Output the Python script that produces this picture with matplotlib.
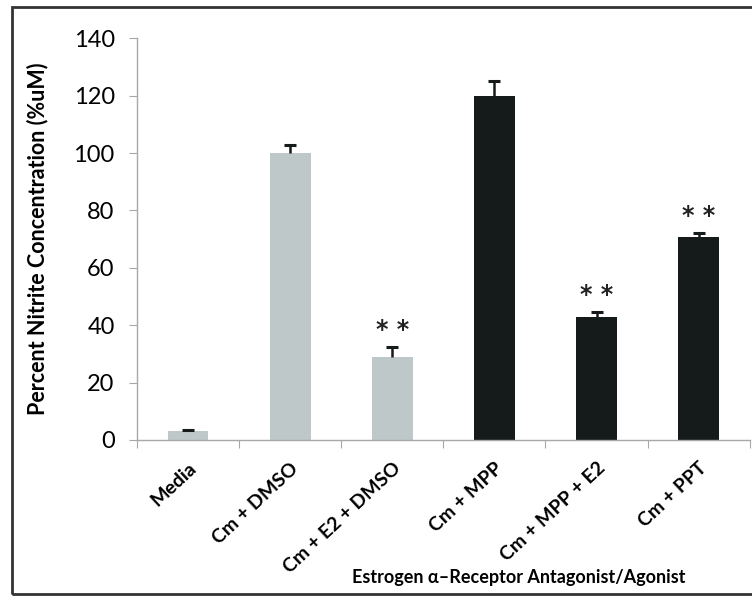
import matplotlib.pyplot as plt
from matplotlib.patches import Rectangle

categories = ["Media", "Cm + DMSO", "Cm + E2 + DMSO", "Cm + MPP", "Cm + MPP + E2", "Cm + PPT"]
values = [3.0, 100.0, 29.0, 120.0, 43.0, 70.6]
errors = [0.6, 2.7, 3.3, 5.2, 1.5, 1.6]
stars = ["", "", "* *", "", "* *", "* *"]
y_ticks = [0, 20, 40, 60, 80, 100, 120, 140]

GRAY = "#bfc8c8"
BLACK = "#151a1a"
bar_colors = [GRAY, GRAY, GRAY, BLACK, BLACK, BLACK]


def main():
    plt.rcParams["font.family"] = ["Lato", "DejaVu Sans"]
    fig = plt.figure(figsize=(7.52, 5.97), dpi=100)
    ax = fig.add_axes([0.182, 0.263, 0.815, 0.673])

    x = list(range(len(categories)))
    tops = [v + e for v, e in zip(values, errors)]
    ax.bar(x, values, width=0.4, color=bar_colors, zorder=2)
    # upper-only error bars with a small cap
    ax.vlines(x, values, tops, color=BLACK, linewidth=1.8, zorder=3)
    ax.plot(x, tops, linestyle="none", marker="_", markersize=8,
            markeredgewidth=2.2, color=BLACK, zorder=3)

    for xi, t, s in zip(x, tops, stars):
        if s:
            ax.text(xi, t + 6, s, ha="center", va="center",
                    fontsize=17, fontweight="bold", color="#222222",
                    family="DejaVu Sans")

    ax.set_xlim(-0.5, len(categories) - 0.5)
    ax.set_ylim(0, 140)
    ax.set_yticks(y_ticks)
    ax.set_yticklabels([str(t) for t in y_ticks], fontsize=17)
    ax.set_xticks([i - 0.5 for i in range(len(categories) + 1)], minor=False)
    ax.set_xticklabels([])
    ax.set_xticks(x, minor=True)
    ax.set_xticklabels(categories, minor=True, rotation=43, ha="right",
                       va="top", rotation_mode="anchor", fontsize=14,
                       fontweight="bold")
    ax.tick_params(axis="x", which="minor", length=0, pad=14)
    ax.tick_params(axis="x", which="major", length=6, color="#a8a8a8")
    ax.tick_params(axis="y", length=6, color="#a8a8a8", pad=10)

    for side in ["top", "right"]:
        ax.spines[side].set_visible(False)
    for side in ["left", "bottom"]:
        ax.spines[side].set_color("#a8a8a8")
        ax.spines[side].set_linewidth(1)

    ax.set_ylabel("Percent Nitrite Concentration (%uM)", fontsize=15.5,
                  fontweight="bold", labelpad=18)
    fig.text(0.69, 0.032, "Estrogen α–Receptor Antagonist/Agonist",
             ha="center", va="center", fontsize=13, fontweight="bold")

    fig.patches.append(Rectangle((0.016, 0.005), 1.1, 0.983,
                                 transform=fig.transFigure, fill=False,
                                 edgecolor="#333333", linewidth=2))

    fig.savefig("out.png", dpi=100)


if __name__ == "__main__":
    main()
